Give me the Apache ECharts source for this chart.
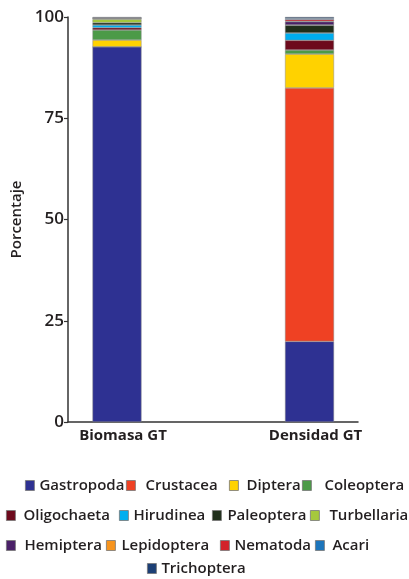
<!DOCTYPE html>
<html>
<head>
<meta charset="utf-8">
<script src="https://cdn.jsdelivr.net/npm/echarts@6/dist/echarts.min.js"></script>
<style>
html, body { margin: 0; background: #fff; }
#chart { width: 409px; height: 579px; }
</style>
</head>
<body>
<div id="chart"></div>
<script>
// categorias y valores (%)
const categories = ["Biomasa GT", "Densidad GT"];
const taxa = ["Gastropoda", "Crustacea", "Diptera", "Coleoptera",
    "Oligochaeta", "Hirudinea", "Paleoptera", "Turbellaria",
    "Hemiptera", "Lepidoptera", "Nematoda", "Acari", "Trichoptera"];
const gastropoda = [92.65, 19.9];
const crustacea = [0, 62.6];
const diptera = [1.65, 8.34];
const coleoptera = [2.48, 0.99];
const oligochaeta = [0.57, 2.4];
const hirudinea = [0.65, 1.81];
const paleoptera = [0.59, 1.91];
const turbellaria = [0.84, 0.1];
const hemiptera = [0.2, 0.8];
const lepidoptera = [0.05, 0.1];
const nematoda = [0.05, 0.45];
const acari = [0.07, 0.3];
const trichoptera = [0.2, 0.3];
const yTicks = [0, 25, 50, 75, 100];

const values = [gastropoda, crustacea, diptera, coleoptera, oligochaeta,
    hirudinea, paleoptera, turbellaria, hemiptera, lepidoptera,
    nematoda, acari, trichoptera];
const colors = ["#2e3192", "#ef4123", "#ffd200", "#4c9a48", "#6d0a1c",
    "#00aeef", "#1f2e1a", "#a6c83c", "#4a2068", "#f7941d",
    "#d2232a", "#1c75bc", "#1c3f75"];

// posicion de cada entrada de leyenda: [x, centro y, relleno texto]
const legendPos = [
    [25, 485, 0], [126, 485, 5], [229, 485, 3], [302, 485, 8],
    [6, 515, 3], [119, 515, 0], [212, 515, 1], [310, 515, 5],
    [6, 545, 4], [106, 545, 1], [220, 545, 0], [315, 545, 3],
    [147, 568, 0],
];

const font = "'Open Sans', 'Noto Sans', sans-serif";
const ink = "#231f20";

const chart = echarts.init(document.getElementById("chart"), null, { renderer: "canvas" });

const option = {
    animation: false,
    textStyle: { fontFamily: font, color: ink },
    grid: [
        { left: 68, right: 51, top: 17, bottom: 157 },
        { left: 117, right: 99.5, top: 17, bottom: 157 },
    ],
    xAxis: [
        {
            gridIndex: 0,
            type: "category",
            data: categories,
            axisLine: { lineStyle: { color: "#333", width: 1.5 } },
            axisTick: { show: false },
            axisLabel: { show: false },
        },
        {
            gridIndex: 1,
            type: "category",
            boundaryGap: false,
            data: categories,
            axisLine: { show: false },
            axisTick: { show: false },
            axisLabel: {
                fontFamily: font,
                fontSize: 15,
                fontWeight: "bold",
                color: ink,
                margin: 6,
                padding: [0, 0, 0, 12],
            },
        },
    ],
    yAxis: [
        {
            gridIndex: 0,
            type: "value",
            min: yTicks[0],
            max: yTicks[yTicks.length - 1],
            interval: 25,
            axisLine: { show: true, lineStyle: { color: "#333", width: 1.5 } },
            axisTick: { show: true, length: 4, lineStyle: { color: "#333", width: 1.2 } },
            axisLabel: { fontFamily: font, fontSize: 17, fontWeight: 600, color: ink, margin: 4 },
            splitLine: { show: false },
            name: "Porcentaje",
            nameLocation: "middle",
            nameGap: 44,
            nameTextStyle: { fontFamily: font, fontSize: 15, fontWeight: 600, color: ink },
        },
        {
            gridIndex: 1,
            type: "value",
            min: 0,
            max: 100,
            show: false,
        },
    ],
    legend: taxa.map((name, i) => ({
        data: [name],
        left: legendPos[i][0],
        top: legendPos[i][1] - 7,
        padding: 0,
        icon: "rect",
        itemWidth: 9,
        itemHeight: 10,
        itemStyle: { borderColor: "#777", borderWidth: 0.8 },
        textStyle: {
            fontFamily: font,
            fontSize: 15,
            fontWeight: 600,
            color: ink,
            padding: [0, 0, 0, legendPos[i][2]],
        },
        selectedMode: false,
    })),
    series: taxa.map((name, i) => ({
        name: name,
        type: "bar",
        stack: "total",
        xAxisIndex: 1,
        yAxisIndex: 1,
        barWidth: 49,
        data: values[i],
        itemStyle: { color: colors[i], borderColor: "#8a8a8a", borderWidth: 0.5 },
    })),
};

chart.setOption(option);
</script>
</body>
</html>
